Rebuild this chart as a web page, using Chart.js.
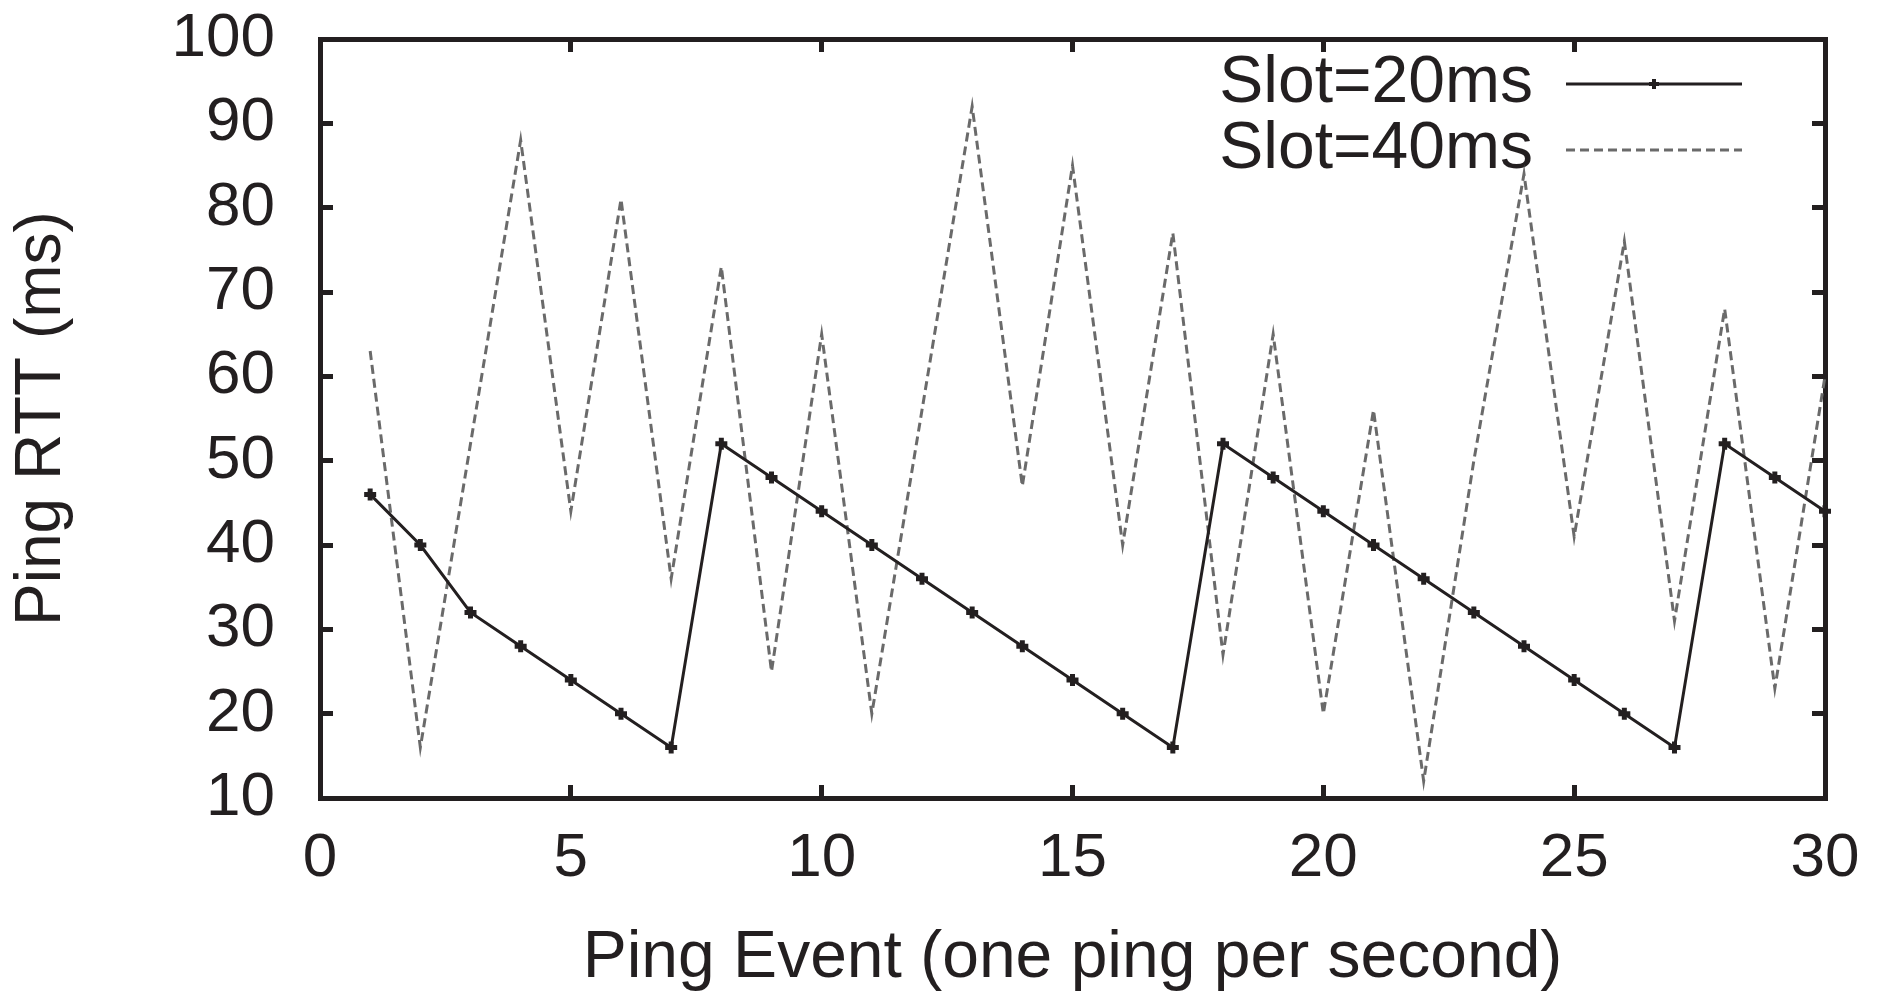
<!DOCTYPE html>
<html>
<head>
<meta charset="utf-8">
<title>Ping RTT</title>
<script src="https://cdn.jsdelivr.net/npm/chart.js@4.4.1/dist/chart.umd.min.js"></script>
<style>
  html, body { margin: 0; padding: 0; background: #fff; }
  canvas { display: block; }
</style>
</head>
<body>
<canvas id="rttChart" width="1890" height="993"></canvas>
<script>
'use strict';

// valeurs (un ping par seconde)
const pingEvents = [1, 2, 3, 4, 5, 6, 7, 8, 9, 10, 11, 12, 13, 14, 15,
  16, 17, 18, 19, 20, 21, 22, 23, 24, 25, 26, 27, 28, 29, 30];
const slot20 = [46, 40, 32, 28, 24, 20, 16, 52, 48, 44, 40, 36, 32, 28, 24,
  20, 16, 52, 48, 44, 40, 36, 32, 28, 24, 20, 16, 52, 48, 44];
const slot40 = [63, 16, 52, 88, 44, 81, 36, 73, 25, 65, 20, 56, 92, 47, 85,
  40, 77, 27, 65, 20, 56, 12, 50, 84, 41, 76, 31, 68, 23, 60];

const xTicks = [0, 5, 10, 15, 20, 25, 30];
const yTicks = [10, 20, 30, 40, 50, 60, 70, 80, 90, 100];
const seriesNames = ['Slot=20ms', 'Slot=40ms'];

const INK = '#231f20';
const GREY = '#6a6a6a';

Chart.defaults.font.family = '"Liberation Sans", Arial, Helvetica, sans-serif';
Chart.defaults.color = INK;

function toPoints(ys) {
  return pingEvents.map((x, i) => ({ x: x, y: ys[i] }));
}

// petit dessin pour la legende : trait + marque au milieu
function makeGlyph(color, dash, withMark) {
  const c = document.createElement('canvas');
  c.width = 176;
  c.height = 16;
  const g = c.getContext('2d');
  g.strokeStyle = color;
  g.lineWidth = 3;
  g.setLineDash(dash);
  g.beginPath();
  g.moveTo(0, 8);
  g.lineTo(176, 8);
  g.stroke();
  if (withMark) {
    g.setLineDash([]);
    g.lineWidth = 4;
    g.beginPath();
    g.moveTo(83, 8); g.lineTo(93, 8);
    g.moveTo(88, 3); g.lineTo(88, 13);
    g.stroke();
  }
  return c;
}
const glyphs = [makeGlyph(INK, [], true), makeGlyph(GREY, [9, 5], false)];

// on deplace la legende en haut a droite, dans le cadre
const legendInPlot = {
  id: 'legendInPlot',
  afterLayout(chart) {
    const lg = chart.legend;
    if (!lg) return;
    const right = 1742;
    lg.left = right - lg.width;
    lg.right = right;
    lg.top = 51;
    lg.bottom = 51 + lg.height;
  }
};

function setTicks(values) {
  return (scale) => { scale.ticks = values.map(v => ({ value: v })); };
}

// taille fixe des axes, sans marge pour les etiquettes qui debordent
function fixSize(w, h) {
  return (s) => {
    if (w !== null) s.width = w;
    if (h !== null) s.height = h;
    s.paddingTop = 0;
    s.paddingBottom = 0;
    s.paddingLeft = 0;
    s.paddingRight = 0;
  };
}

const frameGrid = {
  drawOnChartArea: false,
  drawTicks: true,
  tickLength: -13,
  lineWidth: 5,
  color: INK
};
const frameBorder = { display: true, width: 5, color: INK };

let rttChart = null;

rttChart = new Chart(document.getElementById('rttChart').getContext('2d'), {
  type: 'line',
  data: {
    datasets: [{
      label: seriesNames[0],
      data: toPoints(slot20),
      borderColor: INK,
      backgroundColor: INK,
      borderWidth: 3,
      pointStyle: 'cross',
      pointRadius: 6,
      pointBorderWidth: 5,
      pointBorderColor: INK,
      tension: 0,
      clip: false
    }, {
      label: seriesNames[1],
      data: toPoints(slot40),
      borderColor: GREY,
      backgroundColor: GREY,
      borderWidth: 3,
      borderDash: [9, 5],
      pointRadius: 0,
      tension: 0,
      clip: false
    }]
  },
  options: {
    responsive: false,
    animation: false,
    devicePixelRatio: 1,
    layout: { padding: 0 },
    plugins: {
      tooltip: { enabled: false },
      legend: {
        position: 'chartArea',
        align: 'start',
        rtl: true,
        labels: {
          usePointStyle: true,
          pointStyleWidth: 176,
          padding: 0,
          color: INK,
          font: { size: 66 },
          generateLabels: (chart) => {
            const items = Chart.defaults.plugins.legend.labels.generateLabels(chart);
            items.forEach((it, i) => { it.pointStyle = glyphs[i]; });
            return items;
          }
        }
      }
    },
    scales: {
      x: {
        type: 'linear',
        position: 'bottom',
        min: 0,
        max: 30,
        afterBuildTicks: setTicks(xTicks),
        ticks: { padding: 37, maxRotation: 0, minRotation: 0, color: INK, font: { size: 62 } },
        grid: frameGrid,
        border: frameBorder,
        title: {
          display: true,
          text: 'Ping Event (one ping per second)',
          color: INK,
          font: { size: 66, lineHeight: 1 },
          padding: { top: 0, bottom: 1 }
        },
        afterFit: fixSize(null, 195)
      },
      x2: {
        type: 'linear',
        position: 'top',
        min: 0,
        max: 30,
        afterBuildTicks: setTicks(xTicks),
        ticks: { display: false },
        grid: frameGrid,
        border: frameBorder,
        afterFit: fixSize(null, 39)
      },
      y: {
        type: 'linear',
        position: 'left',
        min: 10,
        max: 100,
        afterBuildTicks: setTicks(yTicks),
        ticks: { padding: 58, color: INK, font: { size: 62 } },
        grid: frameGrid,
        border: frameBorder,
        title: {
          display: true,
          text: 'Ping RTT (ms)',
          color: INK,
          font: { size: 64, lineHeight: 1 },
          padding: { top: 10, bottom: 0 }
        },
        afterFit: fixSize(320, null)
      },
      y2: {
        type: 'linear',
        position: 'right',
        min: 10,
        max: 100,
        afterBuildTicks: setTicks(yTicks),
        ticks: { display: false },
        grid: frameGrid,
        border: frameBorder,
        afterFit: fixSize(65, null)
      }
    }
  },
  plugins: [legendInPlot]
});
</script>
</body>
</html>
